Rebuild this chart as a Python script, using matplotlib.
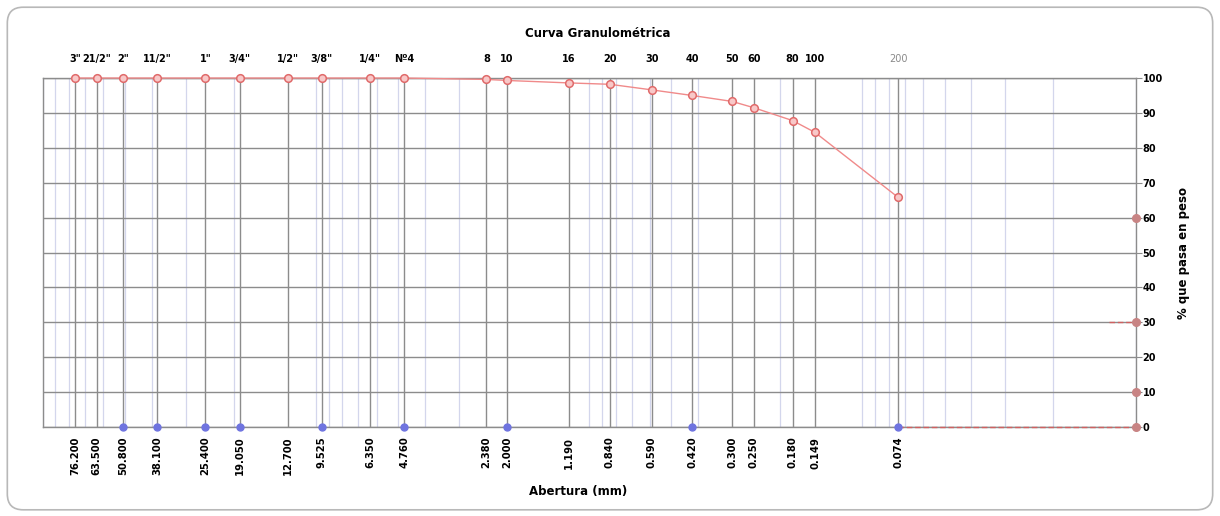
import matplotlib
matplotlib.use("Agg")
import matplotlib.pyplot as plt
import numpy as np
from matplotlib.ticker import FixedLocator, LogLocator, NullFormatter
from matplotlib.patches import FancyBboxPatch

# sieve names and openings (mm)
sieve_names = ['3"', '21/2"', '2"', '11/2"', '1"', '3/4"', '1/2"', '3/8"', '1/4"', 'Nº4',
               '8', '10', '16', '20', '30', '40', '50', '60', '80', '100', '200']
sieve_mm = [76.2, 63.5, 50.8, 38.1, 25.4, 19.05, 12.7, 9.525, 6.35, 4.76,
            2.38, 2.0, 1.19, 0.84, 0.59, 0.42, 0.30, 0.25, 0.18, 0.149, 0.074]
size_labels = ['76.200', '63.500', '50.800', '38.100', '25.400', '19.050', '12.700', '9.525',
               '6.350', '4.760', '2.380', '2.000', '1.190', '0.840', '0.590', '0.420',
               '0.300', '0.250', '0.180', '0.149', '0.074']
# % passing
passing = [100, 100, 100, 100, 100, 100, 100, 100, 100, 100,
           99.6, 99.3, 98.6, 98.2, 96.6, 95.0, 93.3, 91.5, 87.8, 84.4, 65.8]

# second series (blue points at 0)
blue_mm = [50.8, 38.1, 25.4, 19.05, 9.525, 4.76, 2.0, 0.42, 0.074]
blue_val = [0, 0, 0, 0, 0, 0, 0, 0, 0]

# marks on the right edge
edge_mm = 0.01
edge_val = [60, 30, 10, 0]
dash0_mm = [0.074, 0.01]
dash30_mm = [0.0125, 0.01]

fig = plt.figure(figsize=(12.2, 5.16), dpi=100)
ax = fig.add_axes([0.0351, 0.1725, 0.8957, 0.6763])

ax.set_xscale('log')
ax.set_xlim(100, 0.01)
ax.set_ylim(0, 100)

# grid
ax.xaxis.set_major_locator(FixedLocator(sieve_mm))
ax.xaxis.set_minor_locator(LogLocator(base=10, subs=np.arange(1, 10), numticks=50))
ax.xaxis.set_minor_formatter(NullFormatter())
ax.set_xticklabels(size_labels)
ax.grid(True, which='minor', axis='x', color='#d3d6ec', lw=0.9)
ax.grid(True, which='major', axis='x', color='#8c8c8c', lw=1.0)
ax.set_yticks(np.arange(0, 101, 10))
ax.grid(True, which='major', axis='y', color='#8c8c8c', lw=1.0)
ax.set_axisbelow(True)

ax.tick_params(axis='x', which='both', length=0, pad=7, labelsize=7.2, rotation=90)
for lab in ax.get_xticklabels():
    lab.set_fontweight('bold')

ax.yaxis.tick_right()
ax.yaxis.set_label_position('right')
ax.tick_params(axis='y', length=4, color='#8c8c8c', pad=1, labelsize=7)
for lab in ax.get_yticklabels():
    lab.set_fontweight('bold')

for sp in ax.spines.values():
    sp.set_color('#8c8c8c')
    sp.set_linewidth(1.0)

# top sieve labels
top = ax.secondary_xaxis('top')
top.set_xticks(sieve_mm)
top.set_xticklabels(sieve_names)
top.xaxis.set_minor_locator(FixedLocator([]))
top.tick_params(length=0, pad=10, labelsize=7)
for lab in top.get_xticklabels():
    lab.set_fontweight('bold')
top.get_xticklabels()[-1].set_color('#8a8a8a')
top.get_xticklabels()[-1].set_fontweight('normal')
top.spines['top'].set_visible(False)

# curves
ax.plot(sieve_mm, passing, color='#f08a8a', lw=1.0, marker='o', ms=5.5,
        mfc='#f8c8c8', mec='#e06a6a', mew=1.1, clip_on=False, zorder=5)
ax.plot(blue_mm, blue_val, ls='none', marker='o', ms=5, color='#6f74e0',
        clip_on=False, zorder=6)
ax.plot(dash0_mm, [0, 0], color='#d06060', lw=1.0, ls=(0, (4, 2)), clip_on=False, zorder=4)
ax.plot(dash30_mm, [30, 30], color='#d06060', lw=1.0, ls=(0, (4, 2)), clip_on=False, zorder=4)
ax.plot([edge_mm] * len(edge_val), edge_val, ls='none', marker='o', ms=5.5,
        color='#c88484', clip_on=False, zorder=6)

ax.set_ylabel('% que pasa en peso', rotation=90, labelpad=10, fontsize=8.5, fontweight='bold')
fig.text(0.49, 0.935, 'Curva Granulométrica', ha='center', va='center',
         fontsize=8.5, fontweight='bold')
fig.text(0.474, 0.047, 'Abertura (mm)', ha='center', va='center',
         fontsize=8.5, fontweight='bold')

fig.patches.append(FancyBboxPatch((0.006, 0.012), 0.988, 0.974,
                                  boxstyle='round,pad=0,rounding_size=0.013',
                                  transform=fig.transFigure, fill=False,
                                  ec='#b8b8b8', lw=1.2, mutation_aspect=2.36))

fig.savefig('out.png', dpi=100)
